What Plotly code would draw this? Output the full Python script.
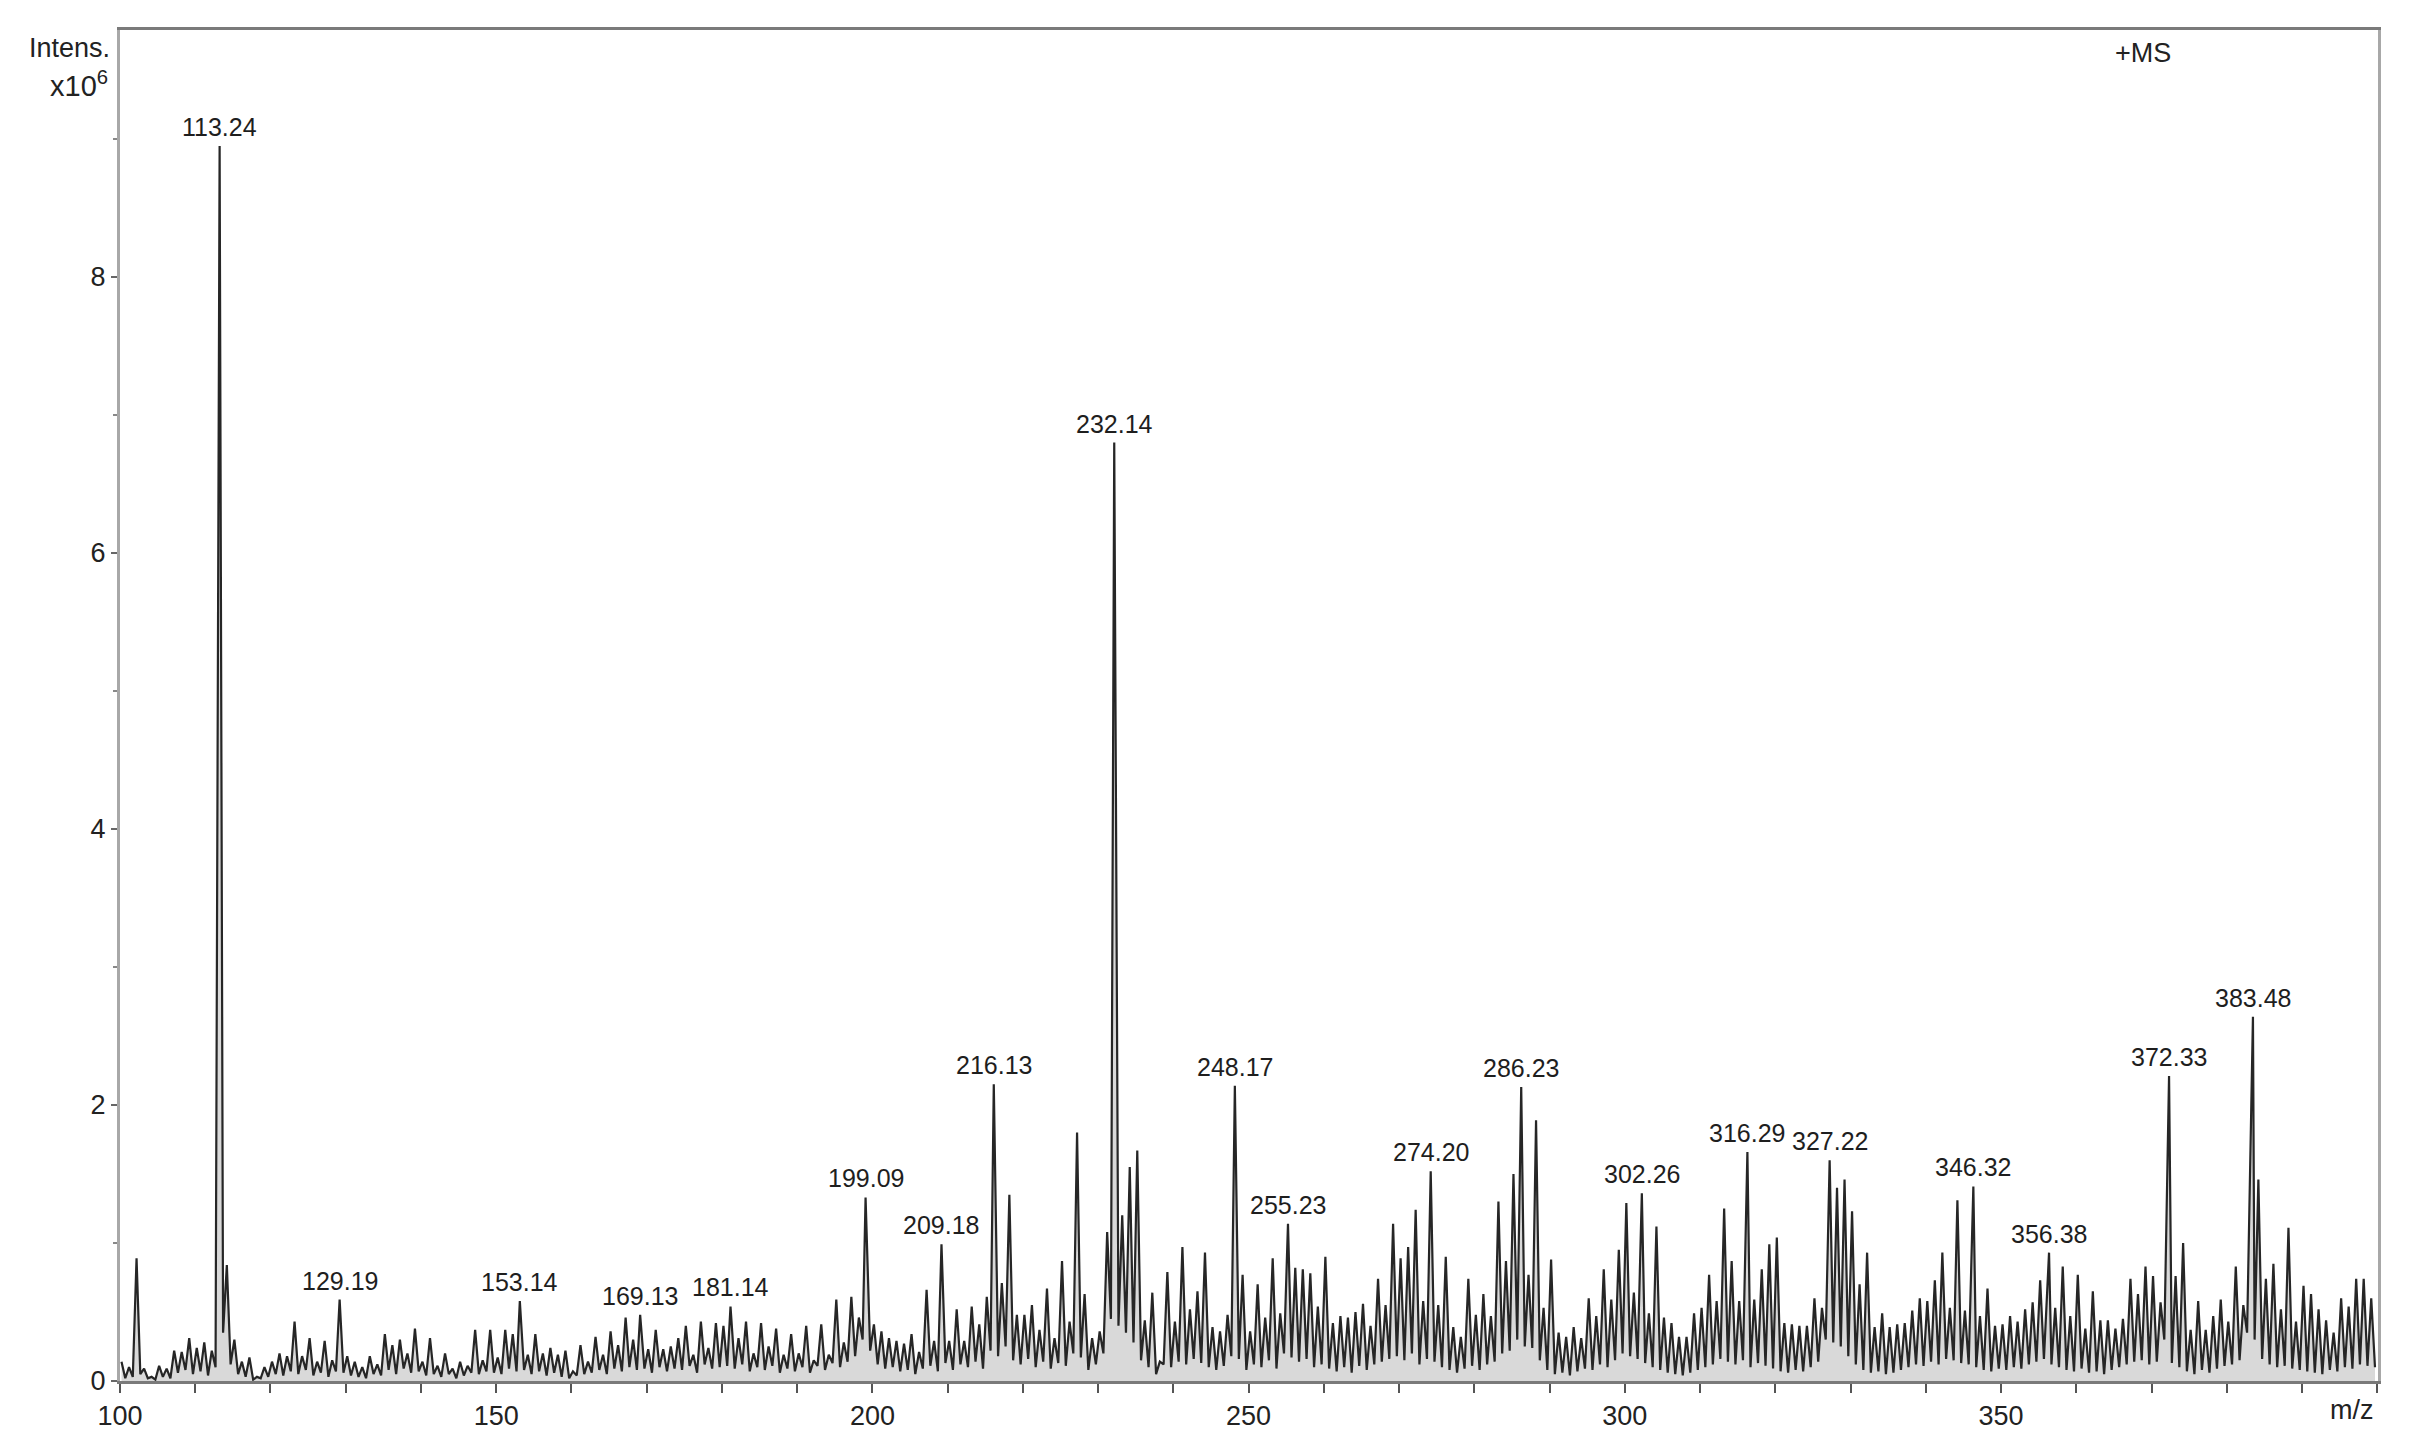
import plotly.graph_objects as go

# ---- data ----
nominal_start = 100
# apex intensity (x10^6) of the peak at each nominal m/z 100..399
peak_int = [
    0.14, 0.10, 0.89, 0.09, 0.03, 0.11, 0.09, 0.22, 0.21, 0.31,   # 100-109
    0.24, 0.28, 0.22, 8.95, 0.84, 0.30, 0.14, 0.17, 0.03, 0.10,   # 110-119
    0.14, 0.20, 0.18, 0.43, 0.18, 0.31, 0.14, 0.29, 0.15, 0.59,   # 120-129
    0.18, 0.14, 0.10, 0.18, 0.12, 0.34, 0.26, 0.30, 0.20, 0.38,   # 130-139
    0.14, 0.31, 0.11, 0.20, 0.09, 0.14, 0.11, 0.37, 0.15, 0.37,   # 140-149
    0.17, 0.37, 0.34, 0.58, 0.19, 0.34, 0.20, 0.24, 0.19, 0.22,   # 150-159
    0.07, 0.26, 0.14, 0.32, 0.19, 0.36, 0.26, 0.46, 0.30, 0.48,   # 160-169
    0.23, 0.37, 0.23, 0.25, 0.31, 0.40, 0.19, 0.43, 0.24, 0.42,   # 170-179
    0.40, 0.54, 0.31, 0.43, 0.20, 0.42, 0.25, 0.38, 0.19, 0.34,   # 180-189
    0.20, 0.40, 0.15, 0.41, 0.19, 0.59, 0.28, 0.61, 0.46, 1.33,   # 190-199
    0.41, 0.36, 0.31, 0.29, 0.27, 0.34, 0.21, 0.66, 0.29, 0.99,   # 200-209
    0.29, 0.52, 0.29, 0.54, 0.41, 0.61, 2.15, 0.71, 1.35, 0.48,   # 210-219
    0.48, 0.55, 0.37, 0.67, 0.31, 0.87, 0.43, 1.80, 0.63, 0.31,   # 220-229
    0.36, 1.08, 6.80, 1.20, 1.55, 1.67, 0.44, 0.64, 0.14, 0.79,   # 230-239
    0.43, 0.97, 0.52, 0.65, 0.93, 0.39, 0.36, 0.48, 2.14, 0.77,   # 240-249
    0.36, 0.70, 0.46, 0.89, 0.49, 1.14, 0.82, 0.81, 0.78, 0.54,   # 250-259
    0.90, 0.42, 0.47, 0.46, 0.50, 0.56, 0.40, 0.74, 0.55, 1.14,   # 260-269
    0.89, 0.97, 1.24, 0.58, 1.52, 0.55, 0.90, 0.39, 0.32, 0.74,   # 270-279
    0.48, 0.63, 0.47, 1.30, 0.87, 1.50, 2.13, 0.77, 1.89, 0.53,   # 280-289
    0.88, 0.35, 0.32, 0.39, 0.31, 0.60, 0.47, 0.81, 0.59, 0.95,   # 290-299
    1.29, 0.64, 1.36, 0.49, 1.12, 0.46, 0.42, 0.32, 0.32, 0.49,   # 300-309
    0.53, 0.77, 0.58, 1.25, 0.87, 0.58, 1.66, 0.59, 0.81, 0.99,   # 310-319
    1.04, 0.42, 0.41, 0.40, 0.40, 0.60, 0.53, 1.60, 1.40, 1.46,   # 320-329
    1.23, 0.70, 0.93, 0.39, 0.49, 0.39, 0.41, 0.42, 0.51, 0.60,   # 330-339
    0.58, 0.73, 0.93, 0.53, 1.31, 0.51, 1.41, 0.47, 0.67, 0.40,   # 340-349
    0.41, 0.47, 0.43, 0.52, 0.57, 0.73, 0.93, 0.53, 0.83, 0.47,   # 350-359
    0.77, 0.38, 0.65, 0.44, 0.44, 0.38, 0.45, 0.74, 0.63, 0.83,   # 360-369
    0.76, 0.57, 2.21, 0.76, 1.00, 0.37, 0.58, 0.37, 0.47, 0.59,   # 370-379
    0.43, 0.83, 0.55, 2.64, 1.46, 0.74, 0.85, 0.52, 1.11, 0.43,   # 380-389
    0.69, 0.63, 0.52, 0.44, 0.35, 0.60, 0.54, 0.74, 0.74, 0.60,   # 390-399
]
# minimum between each peak and the next one
valley_int = [
    0.02, 0.03, 0.05, 0.02, 0.01, 0.03, 0.02, 0.06, 0.08, 0.05,
    0.07, 0.04, 0.10, 0.35, 0.12, 0.05, 0.03, 0.01, 0.02, 0.03,
    0.05, 0.04, 0.07, 0.05, 0.08, 0.04, 0.06, 0.03, 0.07, 0.06,
    0.04, 0.03, 0.02, 0.05, 0.04, 0.08, 0.05, 0.09, 0.06, 0.07,
    0.04, 0.05, 0.03, 0.05, 0.02, 0.04, 0.06, 0.05, 0.07, 0.06,
    0.05, 0.09, 0.07, 0.08, 0.05, 0.07, 0.04, 0.06, 0.03, 0.02,
    0.04, 0.05, 0.06, 0.08, 0.05, 0.09, 0.07, 0.10, 0.08, 0.09,
    0.06, 0.10, 0.07, 0.09, 0.08, 0.11, 0.06, 0.12, 0.09, 0.10,
    0.11, 0.09, 0.12, 0.07, 0.10, 0.08, 0.11, 0.06, 0.09, 0.07,
    0.10, 0.06, 0.11, 0.08, 0.13, 0.10, 0.14, 0.18, 0.30, 0.22,
    0.12, 0.09, 0.10, 0.07, 0.08, 0.05, 0.09, 0.11, 0.07, 0.13,
    0.08, 0.12, 0.10, 0.14, 0.09, 0.22, 0.18, 0.25, 0.15, 0.12,
    0.16, 0.10, 0.14, 0.09, 0.13, 0.11, 0.20, 0.17, 0.08, 0.12,
    0.20, 0.45, 0.40, 0.35, 0.28, 0.15, 0.10, 0.05, 0.12, 0.10,
    0.14, 0.12, 0.16, 0.13, 0.10, 0.08, 0.11, 0.18, 0.16, 0.08,
    0.12, 0.10, 0.15, 0.09, 0.20, 0.17, 0.14, 0.16, 0.10, 0.12,
    0.09, 0.07, 0.10, 0.06, 0.11, 0.08, 0.12, 0.14, 0.16, 0.18,
    0.15, 0.20, 0.12, 0.16, 0.14, 0.10, 0.08, 0.06, 0.09, 0.11,
    0.08, 0.12, 0.14, 0.20, 0.22, 0.30, 0.25, 0.24, 0.15, 0.08,
    0.05, 0.06, 0.04, 0.07, 0.09, 0.08, 0.12, 0.10, 0.15, 0.20,
    0.18, 0.16, 0.13, 0.10, 0.08, 0.06, 0.05, 0.04, 0.06, 0.08,
    0.10, 0.12, 0.16, 0.14, 0.12, 0.15, 0.10, 0.13, 0.11, 0.09,
    0.07, 0.06, 0.08, 0.07, 0.10, 0.14, 0.30, 0.28, 0.25, 0.18,
    0.12, 0.08, 0.06, 0.07, 0.05, 0.06, 0.08, 0.10, 0.12, 0.11,
    0.14, 0.12, 0.16, 0.15, 0.13, 0.12, 0.10, 0.08, 0.07, 0.09,
    0.08, 0.10, 0.09, 0.12, 0.14, 0.16, 0.12, 0.10, 0.08, 0.07,
    0.09, 0.06, 0.07, 0.05, 0.08, 0.10, 0.12, 0.14, 0.15, 0.12,
    0.14, 0.30, 0.13, 0.10, 0.07, 0.05, 0.08, 0.06, 0.09, 0.11,
    0.12, 0.15, 0.35, 0.30, 0.16, 0.12, 0.10, 0.11, 0.09, 0.08,
    0.07, 0.06, 0.05, 0.08, 0.07, 0.10, 0.09, 0.12, 0.11, 0.10,
]
# labelled peaks (exact m/z as printed)
label_mz = [113.24, 129.19, 153.14, 169.13, 181.14, 199.09, 209.18, 216.13,
            232.14, 248.17, 255.23, 274.20, 286.23, 302.26, 316.29, 327.22,
            346.32, 356.38, 372.33, 383.48]

x_ticks = [100, 150, 200, 250, 300, 350]
y_ticks = [0, 2, 4, 6, 8]

# ---- build the profile trace ----
label_by_nominal = {int(m): m for m in label_mz}
xs, ys = [], []
for i, (p, v) in enumerate(zip(peak_int, valley_int)):
    nom = nominal_start + i
    mz = label_by_nominal.get(nom, nom + 0.2)
    xs += [mz, nom + 0.7]
    ys += [p, v]

fig = go.Figure()
fig.add_trace(go.Scatter(
    x=xs, y=ys, mode="lines",
    line=dict(color="#262626", width=2.2),
    fill="tozeroy", fillcolor="#d9d9d9",
    hoverinfo="x+y", showlegend=False,
))

label_font = dict(family="Liberation Sans, Arial, sans-serif", size=25, color="#1e1e1e")
for m in label_mz:
    idx = int(m) - nominal_start
    fig.add_annotation(x=m, y=peak_int[idx], text=f"{m:.2f}", showarrow=False,
                       yanchor="bottom", xanchor="center", yshift=3, font=label_font)

tick_font = dict(family="Liberation Sans Narrow, Arial Narrow, Liberation Sans, sans-serif",
                 size=27, color="#222222")

fig.update_xaxes(
    range=[100, 400.1], tickmode="array", tickvals=x_ticks,
    ticktext=[str(t) for t in x_ticks],
    ticks="outside", ticklen=9, tickwidth=2, tickcolor="#555555",
    minor=dict(tick0=100, dtick=10, ticks="outside", ticklen=9, tickwidth=2, tickcolor="#555555"),
    showline=True, linecolor="#7a7a7a", linewidth=3, mirror=True,
    showgrid=False, zeroline=False, tickfont=tick_font,
)
fig.update_yaxes(
    range=[0, 9.79], tickmode="array", tickvals=y_ticks,
    ticktext=[str(t) for t in y_ticks],
    ticks="outside", ticklen=6, tickwidth=2, tickcolor="#666666",
    minor=dict(tick0=0, dtick=1, ticks="outside", ticklen=4, tickwidth=2, tickcolor="#888888"),
    showline=True, linecolor="#a8a8a8", linewidth=3, mirror=True,
    showgrid=False, zeroline=False, tickfont=tick_font,
)

txt_font = dict(family="Liberation Sans Narrow, Arial Narrow, Liberation Sans, sans-serif",
                size=27, color="#222222")
fig.add_annotation(xref="paper", yref="paper", x=0, y=1, xanchor="right", yanchor="top",
                   xshift=-8, yshift=-1, text="Intens.", showarrow=False, font=txt_font)
fig.add_annotation(xref="paper", yref="paper", x=0, y=1, xanchor="right", yanchor="top",
                   xshift=-10, yshift=-34, text="x10<sup>6</sup>", showarrow=False,
                   font=dict(family=txt_font["family"], size=29, color="#222222"))
fig.add_annotation(xref="paper", yref="paper", x=1, y=1, xanchor="left", yanchor="top",
                   xshift=-265, yshift=-6, text="+MS", showarrow=False, font=txt_font)
fig.add_annotation(xref="paper", yref="paper", x=1, y=0, xanchor="right", yanchor="top",
                   xshift=-2, yshift=-12, text="m/z", showarrow=False, font=txt_font)

fig.update_layout(
    width=2411, height=1437,
    margin=dict(l=112, r=41, t=22, b=64),
    paper_bgcolor="white", plot_bgcolor="white",
)

fig.write_html("out.html")
